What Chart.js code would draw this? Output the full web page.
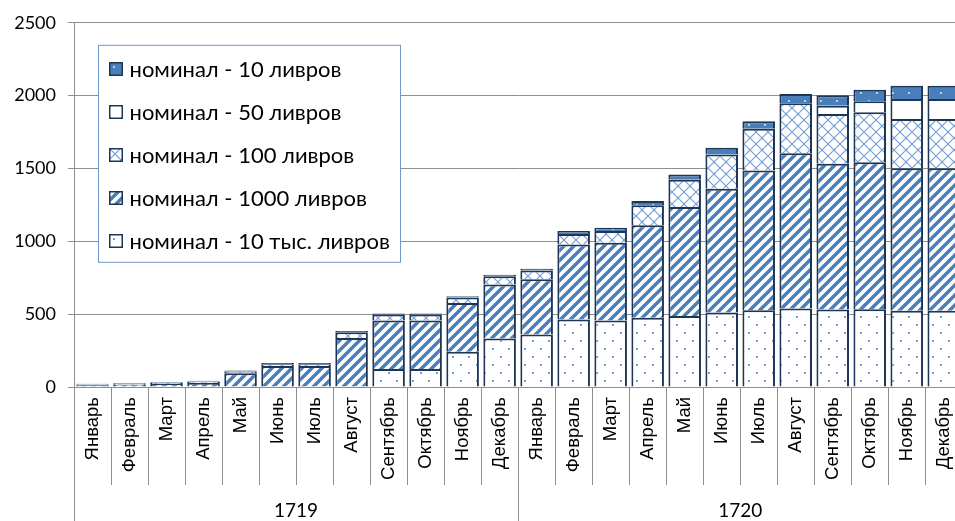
<!DOCTYPE html>
<html lang="ru">
<head>
<meta charset="utf-8">
<title>Банкноты по номиналам, 1719–1720</title>
<script src="https://cdn.jsdelivr.net/npm/chart.js@4.4.1/dist/chart.umd.min.js"></script>
<style>
  html, body { margin: 0; padding: 0; background: #ffffff; overflow: hidden; }
  #wrap { width: 976px; height: 521px; }
</style>
</head>
<body>
<div id="wrap"><canvas id="c" width="976" height="521"></canvas></div>
<script>
// Months and years of the two-level category axis
const months = ['Январь', 'Февраль', 'Март', 'Апрель', 'Май', 'Июнь',
                'Июль', 'Август', 'Сентябрь', 'Октябрь', 'Ноябрь', 'Декабрь'];
const years = ['1719', '1720'];

// Notes outstanding by denomination, millions of livres (Jan 1719 … Dec 1720)
const nom10k = [0, 0, 0, 0, 0, 0, 0, 0, 123, 123, 242, 333,
                361, 464, 457, 475, 488, 511, 527, 539, 532, 534, 523, 523];
const nom1000 = [12, 16, 20, 28, 94, 144, 144, 336, 334, 334, 335, 370,
                 378, 515, 534, 635, 747, 850, 959, 1066, 1000, 1009, 979, 979];
const nom100 = [6, 7, 8, 10, 12, 12, 12, 40, 40, 40, 38, 58,
                60, 72, 80, 137, 188, 235, 286, 342, 342, 343, 338, 338];
const nom50 = [0, 0, 0, 0, 0, 0, 0, 0, 0, 0, 0, 0,
               0, 0, 0, 0, 0, 0, 0, 0, 57, 75, 137, 137];
const nom10 = [4, 5, 5, 5, 8, 8, 8, 8, 8, 8, 8, 10,
               12, 20, 23, 29, 36, 46, 52, 64, 72, 80, 91, 91];

// Series names (bottom of the stack first)
const seriesNames = ['номинал - 10 тыс. ливров', 'номинал - 1000 ливров',
                     'номинал - 100 ливров', 'номинал - 50 ливров', 'номинал - 10 ливров'];

// Value axis ticks
const yMin = 0, yMax = 2500, yStep = 500;

const labels = years.flatMap(() => months);

const canvas = document.getElementById('c');
const ctx = canvas.getContext('2d');

const BLUE = '#4a7ebb';
const LIGHT = '#6f9bd4';
const EDGE = '#1d3656';
const GRID = '#8e8e8e';

function tile(size, paint) {
  const t = document.createElement('canvas');
  t.width = size; t.height = size;
  const g = t.getContext('2d');
  paint(g, size);
  return ctx.createPattern(t, 'repeat');
}

// sparse dots on white
const patDots = tile(16, (g, s) => {
  g.fillStyle = '#ffffff'; g.fillRect(0, 0, s, s);
  g.fillStyle = LIGHT;
  g.fillRect(4, 4, 2, 2);
  g.fillRect(12, 12, 2, 2);
});
// wide upward diagonal stripes
const patStripes = tile(10, (g, s) => {
  g.fillStyle = '#ffffff'; g.fillRect(0, 0, s, s);
  g.strokeStyle = BLUE; g.lineWidth = 3.4;
  g.beginPath();
  g.moveTo(-2, s + 2); g.lineTo(s + 2, -2);
  g.moveTo(-2, 2); g.lineTo(2, -2);
  g.moveTo(s - 2, s + 2); g.lineTo(s + 2, s - 2);
  g.stroke();
});
// diagonal lattice
const patLattice = tile(12, (g, s) => {
  g.fillStyle = '#ffffff'; g.fillRect(0, 0, s, s);
  g.strokeStyle = LIGHT; g.lineWidth = 1.1;
  g.beginPath();
  g.moveTo(0, 0); g.lineTo(s, s);
  g.moveTo(0, s); g.lineTo(s, 0);
  g.stroke();
});
// solid blue with light dots
const patBlue = tile(16, (g, s) => {
  g.fillStyle = BLUE; g.fillRect(0, 0, s, s);
  g.fillStyle = '#b7cdeb';
  g.fillRect(4, 4, 2, 2);
  g.fillRect(12, 12, 2, 2);
});

const fills = [patDots, patStripes, patLattice, '#ffffff', patBlue];
const values = [nom10k, nom1000, nom100, nom50, nom10];

const datasets = values.map((v, i) => ({
  label: seriesNames[i],
  data: v,
  backgroundColor: fills[i],
  borderColor: EDGE,
  borderWidth: 2,
  barPercentage: 0.88,
  categoryPercentage: 1.0,
  stack: 'notes'
}));

// Separators of the two-level category axis
const categoryLines = {
  id: 'categoryLines',
  afterDraw(chart) {
    const x = chart.scales.x;
    const area = chart.chartArea;
    const c = chart.ctx;
    const n = labels.length;
    const step = x.getPixelForValue(1) - x.getPixelForValue(0);
    const monthBottom = area.bottom + x.height;
    c.save();
    c.strokeStyle = GRID;
    c.lineWidth = 1;
    for (let i = 0; i <= n; i++) {
      const px = Math.round(x.getPixelForValue(0) - step / 2 + i * step) + 0.5;
      const yearEdge = i % months.length === 0;
      c.beginPath();
      c.moveTo(px, area.bottom);
      c.lineTo(px, yearEdge ? chart.height : monthBottom);
      c.stroke();
    }
    c.restore();
  }
};

// Legend box inside the plot area
const boxLegend = {
  id: 'boxLegend',
  afterDraw(chart) {
    const c = chart.ctx;
    const area = chart.chartArea;
    const bx = area.left + 24.5, by = area.top + 22.5, bw = 302, bh = 217;
    c.save();
    c.fillStyle = '#ffffff';
    c.fillRect(bx, by, bw, bh);
    c.strokeStyle = '#7097cb';
    c.lineWidth = 1;
    c.strokeRect(bx, by, bw, bh);
    const order = [4, 3, 2, 1, 0];
    c.font = '22px Lato';
    c.textBaseline = 'middle';
    c.fillStyle = '#000000';
    order.forEach((di, k) => {
      const cy = Math.round(by + 24 + k * 42.8);
      const sx = Math.round(bx + 10), sy = cy - 7;
      c.save();
      c.translate(sx, sy);
      c.fillStyle = fills[di];
      c.fillRect(0, 0, 14, 14);
      c.restore();
      c.strokeStyle = EDGE;
      c.lineWidth = 1.5;
      c.strokeRect(sx + 0.75, sy + 0.75, 12.5, 12.5);
      c.fillStyle = '#000000';
      c.fillText(chart.data.datasets[di].label, bx + 31, cy + 1);
    });
    c.restore();
  }
};

new Chart(ctx, {
  type: 'bar',
  data: { labels, datasets },
  plugins: [categoryLines, boxLegend],
  options: {
    responsive: false,
    devicePixelRatio: 1,
    animation: false,
    layout: { padding: { top: 22, right: 2, left: 0, bottom: 0 } },
    plugins: {
      legend: { display: false },
      tooltip: { enabled: false },
      title: { display: false }
    },
    scales: {
      x: {
        stacked: true,
        offset: true,
        grid: { display: false, drawTicks: false },
        border: { display: true, color: GRID, width: 1 },
        ticks: {
          autoSkip: false,
          minRotation: 90,
          maxRotation: 90,
          padding: 10,
          color: '#000000',
          font: { family: 'Liberation Sans', size: 18.5 }
        },
        afterFit(scale) { scale.height = 98; }
      },
      x2: {
        type: 'category',
        labels: years,
        position: 'bottom',
        offset: true,
        grid: { display: false, drawTicks: false },
        border: { display: false },
        ticks: {
          padding: 14,
          color: '#000000',
          font: { family: 'Lato', size: 19 }
        },
        afterFit(scale) { scale.height = 36; }
      },
      y: {
        stacked: true,
        min: yMin,
        max: yMax,
        ticks: {
          stepSize: yStep,
          padding: 12,
          color: '#000000',
          font: { family: 'Lato', size: 18 },
          callback: (v) => String(v)
        },
        grid: { color: GRID, lineWidth: 1, tickLength: 6 },
        border: { display: true, color: GRID, width: 1 },
        afterFit(scale) { scale.width = 74; }
      }
    }
  }
});
</script>
</body>
</html>
